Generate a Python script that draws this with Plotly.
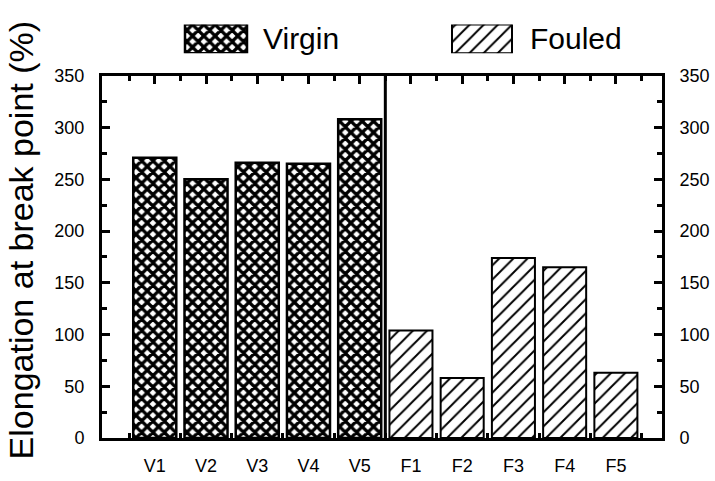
import plotly.graph_objects as go

# ---- data ----
categories = ["V1", "V2", "V3", "V4", "V5", "F1", "F2", "F3", "F4", "F5"]
virgin_values = [271, 250, 266, 265, 308]
fouled_values = [104, 58, 174, 165, 63]
series_names = ["Virgin", "Fouled"]
y_ticks = [0, 50, 100, 150, 200, 250, 300, 350]
y_title = "Elongation at break point (%)"

positions = list(range(1, len(categories) + 1))
virgin_pos = positions[:len(virgin_values)]
fouled_pos = positions[len(virgin_values):]
half_pos = [p - 0.5 for p in positions] + [positions[-1] + 0.5]

FONT = "Liberation Sans, Arial, sans-serif"
W, H = 715, 481
ML, MR, MT, MB = 102, 53, 5, 35
PW, PH = W - ML - MR, H - MT - MB


def py(pix):  # pixel y -> paper fraction
    return (H - MB - pix) / PH


def px(pix):
    return (pix - ML) / PW


XR = [-0.03, 10.9]
bar_w = 0.84

cross = dict(shape="x", size=8, solidity=0.65, fgcolor="black", bgcolor="white", fgopacity=1)
hatch = dict(shape="/", size=10, solidity=0.2, fgcolor="black", bgcolor="white", fgopacity=1)

fig = go.Figure()
fig.add_trace(go.Bar(
    x=virgin_pos, y=virgin_values, width=bar_w, name=series_names[0], opacity=1,
    marker=dict(color="white", opacity=1, line=dict(color="black", width=2.5), pattern=cross),
    showlegend=False))
fig.add_trace(go.Bar(
    x=fouled_pos, y=fouled_values, width=bar_w, name=series_names[1], opacity=1,
    marker=dict(color="white", opacity=1, line=dict(color="black", width=2), pattern=hatch),
    showlegend=False))
# helper for overlay axes
fig.add_trace(go.Scatter(x=[None], y=[None], xaxis="x2", yaxis="y2", showlegend=False, hoverinfo="skip"))

# legend swatches on an auxiliary pixel axis
leg_boxes_x = [216, 482]
leg_boxes_w = [62, 60]
fig.add_trace(go.Bar(
    x=[leg_boxes_x[0]], y=[1], width=[leg_boxes_w[0]], xaxis="x3", yaxis="y3", showlegend=False,
    opacity=1, marker=dict(color="white", opacity=1, line=dict(color="black", width=2.5), pattern=cross),
    hoverinfo="skip"))
fig.add_trace(go.Bar(
    x=[leg_boxes_x[1]], y=[1], width=[leg_boxes_w[1]], xaxis="x3", yaxis="y3", showlegend=False,
    opacity=1, marker=dict(color="white", opacity=1, line=dict(color="black", width=2), pattern=hatch),
    hoverinfo="skip"))

ydom = [0, py(68.5)]
tickfont = dict(family=FONT, size=18, color="black")
minor_y = dict(dtick=25, tick0=0, ticks="inside", ticklen=5, tickwidth=3,
               tickcolor="black", showgrid=False)
minor_x = dict(tickmode="array", tickvals=half_pos, ticks="inside", ticklen=5,
               tickwidth=3, tickcolor="black", showgrid=False)

fig.update_layout(
    width=W, height=H, margin=dict(l=ML, r=MR, t=MT, b=MB),
    paper_bgcolor="white", plot_bgcolor="white", barmode="overlay",
    font=dict(family=FONT, color="black"),
    xaxis=dict(range=XR, tickmode="array", tickvals=positions, ticktext=categories,
               ticks="", showline=True, linewidth=3, linecolor="black", zeroline=False,
               showgrid=False, tickfont=tickfont, ticklabelstandoff=9, minor=minor_x),
    xaxis2=dict(range=XR, overlaying="x", side="top", anchor="y", tickmode="array",
                tickvals=positions, ticks="inside", ticklen=8, tickwidth=3, tickcolor="black",
                showticklabels=False, showline=True, linewidth=3, linecolor="black",
                showgrid=False, zeroline=False, minor=minor_x),
    yaxis=dict(range=[0, 350], domain=ydom, tickmode="array", tickvals=y_ticks,
               ticks="inside", ticklen=8, tickwidth=3, tickcolor="black",
               showline=True, linewidth=3, linecolor="black", showgrid=False, zeroline=False,
               tickfont=tickfont, ticklabelstandoff=11, minor=minor_y),
    yaxis2=dict(range=[0, 350], domain=ydom, overlaying="y", side="right", anchor="x",
                tickmode="array", tickvals=y_ticks,
                ticks="inside", ticklen=8, tickwidth=3, tickcolor="black",
                showline=True, linewidth=3, linecolor="black", showgrid=False, zeroline=False,
                tickfont=tickfont, ticklabelstandoff=11, minor=minor_y),
    xaxis3=dict(domain=[0, 1], range=[ML, W - MR], anchor="y3", visible=False),
    yaxis3=dict(domain=[py(45), py(15)], range=[0, 1], anchor="x3", visible=False),
    shapes=[dict(type="line", xref="x", yref="y", x0=5.5, x1=5.5, y0=0, y1=350,
                 line=dict(color="black", width=3))],
    annotations=[
        dict(text=y_title, xref="paper", yref="paper", x=px(21), y=py(240),
             textangle=-90, showarrow=False, font=dict(family=FONT, size=34, color="black"),
             xanchor="center", yanchor="middle"),
        dict(text=series_names[0], xref="x3", yref="paper", x=261, y=py(30), xanchor="left",
             yanchor="middle", showarrow=False, font=dict(family=FONT, size=30, color="black")),
        dict(text=series_names[1], xref="x3", yref="paper", x=528, y=py(29), xanchor="left",
             yanchor="middle", showarrow=False, font=dict(family=FONT, size=30, color="black")),
    ],
)

fig.write_html(
    "out.html",
    config={"displayModeBar": False},
    post_script="document.body.style.margin='0';document.body.style.padding='0';"
                "document.body.style.overflow='hidden';",
)
